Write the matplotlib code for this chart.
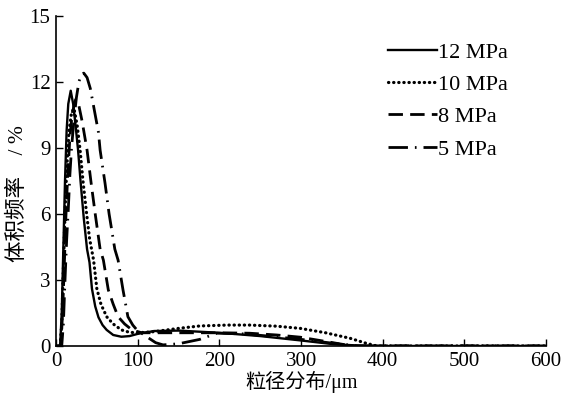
import numpy as np
import matplotlib.pyplot as plt

plt.rcParams['font.family'] = ['Liberation Serif', 'Noto Sans CJK SC', 'DejaVu Sans']

# 12 MPa
x12 = [0, 5, 7, 9, 11, 13, 15, 18, 21, 24, 27, 30, 34, 38, 41, 44, 48, 52, 57, 62, 70, 80,
       90, 100, 120, 150, 200, 250, 300, 340, 370, 400, 600]
y12 = [0, 0, 1.5, 4.5, 7.5, 9.8, 11.0, 11.6, 11.0, 10.0, 8.9, 7.5, 5.8, 4.4, 3.8, 2.6, 1.8,
       1.3, 0.95, 0.73, 0.5, 0.42, 0.45, 0.55, 0.68, 0.7, 0.6, 0.45, 0.25, 0.08, 0.02, 0, 0]

# 10 MPa
x10 = [0, 5, 7, 9, 11, 13, 16, 19, 22, 26, 29.5, 33, 37.5, 41, 44, 46, 50, 55, 62, 70, 80,
       90, 100, 120, 150, 176, 210, 237, 270, 299, 330, 360, 380, 393, 600]
y10 = [0, 0, 1.0, 3.5, 6.0, 8.0, 9.8, 10.6, 10.8, 10.0, 8.9, 7.5, 6.0, 4.9, 4.3, 3.9, 2.6,
       1.9, 1.33, 1.0, 0.73, 0.62, 0.6, 0.65, 0.8, 0.91, 0.95, 0.95, 0.9, 0.8, 0.6, 0.35,
       0.12, 0, 0]

# 8 MPa
x8 = [0, 6, 8, 10, 12, 14, 17, 20, 24, 27, 32, 38, 43, 48, 54, 58, 64, 70, 76, 84, 93,
      105, 150, 200, 237, 270, 299, 331, 350, 365, 600]
y8 = [0, 0, 1.5, 3.5, 5.8, 7.5, 9.5, 10.6, 11.2, 11.1, 10.2, 8.9, 7.4, 6.0, 4.4, 3.9, 2.55,
      1.9, 1.33, 1.0, 0.73, 0.6, 0.6, 0.6, 0.58, 0.5, 0.4, 0.2, 0.08, 0, 0]

# 5 MPa
x5 = [0, 7, 9, 11, 13, 15, 17, 19, 22, 25, 28, 31, 34, 38, 42, 48, 52, 54, 60, 65, 72, 76,
      82, 88, 94, 99, 111, 122, 131, 150, 176, 197, 230, 260, 300, 340, 370, 600]
y5 = [0, 0, 1.0, 3.0, 4.8, 6.2, 7.8, 9.0, 10.3, 11.3, 12.0, 12.35, 12.4, 12.2, 11.7, 10.5,
      9.7, 8.9, 7.4, 6.0, 4.4, 3.9, 2.55, 1.33, 0.95, 0.73, 0.42, 0.15, 0.05, 0.1, 0.3, 0.58,
      0.55, 0.45, 0.3, 0.12, 0.0, 0]

fig = plt.figure(figsize=(5.63, 3.98), dpi=100)
ax = fig.add_axes([0.0995, 0.1307, 0.8705, 0.8293])

ax.plot(x12, y12, color='black', lw=1.7, ls='-', label='12 MPa')
ax.plot(x10, y10, color='black', lw=2.3, ls=(0, (0.1, 1.5)), dash_capstyle='round',
        label='10 MPa')
ax.plot(x8, y8, color='black', lw=2.0, ls=(0, (5.2, 2.6)), label='8 MPa')
ax.plot(x5, y5, color='black', lw=2.0, ls=(0, (7, 2.5, 0.6, 2.5)), label='5 MPa')

ax.set_xlim(0, 600)
ax.set_ylim(0, 15)
ax.set_xticks(np.arange(0, 601, 100))
ax.set_yticks(np.arange(0, 16, 3))
ax.tick_params(direction='in', length=5, width=1, labelsize=15, pad=4)
for s in ['top', 'right']:
    ax.spines[s].set_visible(False)
for s in ['left', 'bottom']:
    ax.spines[s].set_linewidth(1.2)

ax.set_xlabel('粒径分布/μm', fontsize=14.5, labelpad=0)
ax.set_ylabel('体积频率\u3000/ %', fontsize=15.5)
ax.yaxis.set_label_coords(-0.057, 0.462)

ax.legend(loc='upper left', bbox_to_anchor=(0.678, 0.921), frameon=False, fontsize=16,
          handlelength=2.2, handletextpad=0.05, labelspacing=0.53, borderpad=0,
          borderaxespad=0)

fig.savefig('out.png', dpi=100)
